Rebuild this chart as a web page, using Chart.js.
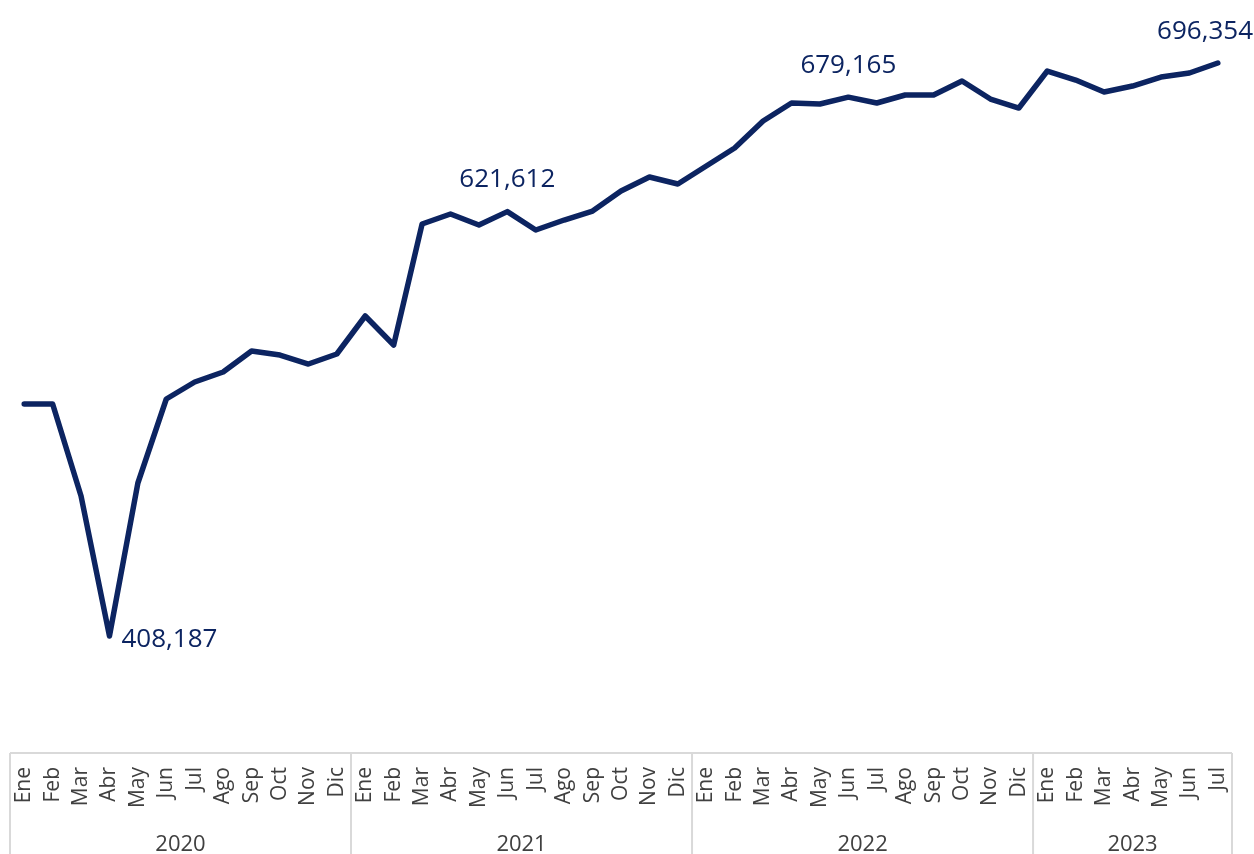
<!DOCTYPE html>
<html>
<head>
<meta charset="utf-8">
<script src="https://cdn.jsdelivr.net/npm/chart.js@4"></script>
<style>
  html, body { margin: 0; padding: 0; background: #fff; }
  #wrap { width: 1254px; height: 854px; }
</style>
</head>
<body>
<div id="wrap"><canvas id="chart" width="1254" height="854"></canvas></div>
<script>
// meses por año
const years = ["2020", "2021", "2022", "2023"];
const monthsPerYear = [12, 12, 12, 7];
const monthNames = ["Ene", "Feb", "Mar", "Abr", "May", "Jun", "Jul", "Ago", "Sep", "Oct", "Nov", "Dic"];

const values = [
  524860, 524860, 478593, 408187, 485131, 527374, 535924, 540953, 551514, 549502, 544976, 550005,
  569115, 554531, 615382, 620411, 614879, 621612, 612364, 617393, 621920, 631978, 639018, 635498,
  644550, 653602, 667181, 676233, 675730, 679165, 676233, 680256, 680256, 687297, 678244, 673718,
  692326, 687799, 681765, 684782, 689308, 691320, 696354
];

// puntos con etiqueta
const labeled = [3, 17, 29, 42];

const labels = [];
monthsPerYear.forEach(n => {
  for (let i = 0; i < n; i++) labels.push(monthNames[i]);
});

const navy = "#0c2461";
const fmt = v => v.toLocaleString("en-US");

const groupAxis = {
  id: "groupAxis",
  afterDraw(chart) {
    const ctx = chart.ctx;
    const x = chart.scales.x;
    const area = chart.chartArea;
    const top = area.bottom;
    const bottom = chart.height;
    const half = (x.getPixelForValue(1) - x.getPixelForValue(0)) / 2;

    ctx.save();
    ctx.strokeStyle = "#d9d9d9";
    ctx.lineWidth = 2;
    ctx.beginPath();
    ctx.moveTo(area.left, top);
    ctx.lineTo(area.right, top);

    let start = 0;
    ctx.font = "22px 'Open Sans'";
    ctx.fillStyle = "#404040";
    ctx.textAlign = "center";
    ctx.textBaseline = "middle";
    years.forEach((yr, k) => {
      const end = start + monthsPerYear[k] - 1;
      const x0 = x.getPixelForValue(start) - half;
      const x1 = x.getPixelForValue(end) + half;
      ctx.moveTo(x0, top);
      ctx.lineTo(x0, bottom);
      if (k === years.length - 1) {
        ctx.moveTo(x1, top);
        ctx.lineTo(x1, bottom);
      }
      ctx.fillText(yr, (x0 + x1) / 2, 845);
      start = end + 1;
    });
    ctx.stroke();
    ctx.restore();
  }
};

const pointLabels = {
  id: "pointLabels",
  afterDatasetsDraw(chart) {
    const ctx = chart.ctx;
    const meta = chart.getDatasetMeta(0);
    ctx.save();
    ctx.font = "26px 'Open Sans'";
    ctx.fillStyle = navy;
    ctx.textBaseline = "middle";
    labeled.forEach(i => {
      const p = meta.data[i];
      const txt = fmt(values[i]);
      if (i === 3) {
        ctx.textAlign = "left";
        ctx.fillText(txt, p.x + 12, p.y + 4);
      } else if (i === values.length - 1) {
        ctx.textAlign = "right";
        ctx.fillText(txt, chart.width - 1, p.y - 31);
      } else {
        ctx.textAlign = "center";
        ctx.fillText(txt, p.x, p.y - 32);
      }
    });
    ctx.restore();
  }
};

new Chart(document.getElementById("chart"), {
  type: "line",
  data: {
    labels: labels,
    datasets: [{
      data: values,
      borderColor: navy,
      borderWidth: 5.5,
      borderJoinStyle: "round",
      borderCapStyle: "round",
      pointRadius: 0,
      tension: 0,
      fill: false
    }]
  },
  options: {
    responsive: false,
    animation: false,
    layout: { padding: { left: 10, right: 22, top: 0, bottom: 0 } },
    plugins: {
      legend: { display: false },
      tooltip: { enabled: false }
    },
    scales: {
      x: {
        offset: true,
        grid: { display: false, drawTicks: false },
        border: { display: false },
        ticks: {
          autoSkip: false,
          minRotation: 90,
          maxRotation: 90,
          padding: 14,
          color: "#404040",
          font: { family: "'Open Sans'", size: 21 }
        },
        afterFit(scale) {
          scale.height = 101;
          scale.paddingLeft = 0;
          scale.paddingRight = 0;
        }
      },
      y: {
        display: false,
        min: 349348,
        max: 728037
      }
    }
  },
  plugins: [groupAxis, pointLabels]
});
</script>
</body>
</html>
